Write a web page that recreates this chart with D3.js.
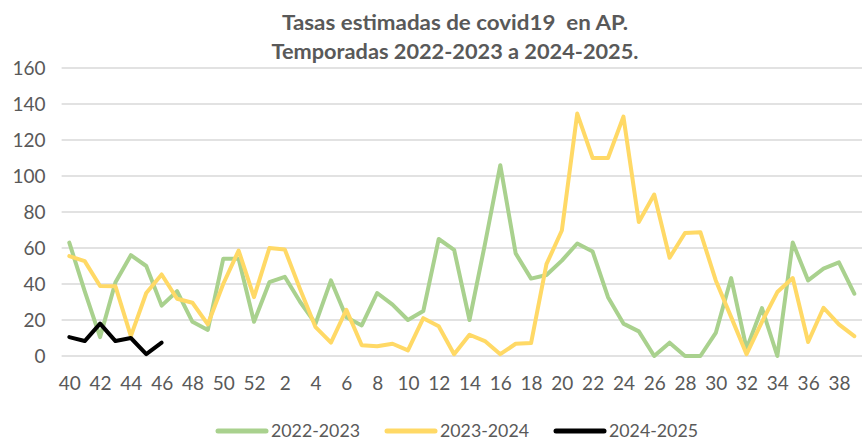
<!DOCTYPE html>
<html>
<head>
<meta charset="utf-8">
<script src="https://cdn.jsdelivr.net/npm/d3@7"></script>
<style>
  body { margin: 0; background: #fff; }
  svg { display: block; font-family: Lato, "Open Sans", sans-serif; }
</style>
</head>
<body>
<div id="chart"></div>
<script>
// semanas epidemiologicas, de la 40 a la 39 del año siguiente
const weeks = [40, 41, 42, 43, 44, 45, 46, 47, 48, 49, 50, 51, 52,
  1, 2, 3, 4, 5, 6, 7, 8, 9, 10, 11, 12, 13, 14, 15, 16, 17, 18, 19, 20,
  21, 22, 23, 24, 25, 26, 27, 28, 29, 30, 31, 32, 33, 34, 35, 36, 37, 38, 39];

const s2022 = [63, 36, 10.5, 41, 56, 50, 28, 36, 19, 14.5, 54, 54, 19,
  41, 44, 30, 18, 42, 21.5, 17, 35, 28.5, 20, 25, 65, 59, 20, 62, 106, 57,
  43, 45, 53, 62.5, 58, 32.7, 18, 13.7, 0, 7.4, 0, 0, 12.8, 43.3, 4, 26.6,
  0, 63, 42, 48.5, 52, 34.6];

const s2023 = [55.5, 52.7, 38.9, 38.7, 11, 35, 45.3, 31.8, 29.6, 17.6, 40, 58.6, 32.7,
  60, 59.2, 37, 16, 7.4, 25.7, 6, 5.4, 6.8, 3.1, 21, 16.5, 1, 11.8, 8.3, 1, 6.8,
  7.2, 51, 69.7, 134.7, 110, 110, 133, 74.4, 89.7, 54.6, 68.3, 68.8, 42, 21.6, 1,
  19, 35.5, 43.3, 7.8, 26.8, 17.6, 11];

const s2024 = [10.5, 8.3, 18, 8.3, 10, 1, 7.4];

const yTicks = [0, 20, 40, 60, 80, 100, 120, 140, 160];

const series = [
  { name: '2022-2023', values: s2022, color: '#a9d18e' },
  { name: '2023-2024', values: s2023, color: '#ffd966' },
  { name: '2024-2025', values: s2024, color: '#000000' }
];

const width = 867, height = 442;
const margin = { top: 68, right: 5, bottom: 86, left: 61.6 };
const labelColor = '#595959';

const svg = d3.select('#chart').append('svg')
  .attr('width', width)
  .attr('height', height);

const x = d3.scalePoint()
  .domain(weeks.map(String))
  .range([margin.left, width - margin.right])
  .padding(0.5);

const y = d3.scaleLinear()
  .domain([0, 160])
  .range([height - margin.bottom, margin.top]);

// gridlines
svg.append('g')
  .selectAll('line')
  .data(yTicks)
  .join('line')
  .attr('x1', margin.left)
  .attr('x2', width - margin.right)
  .attr('y1', d => y(d))
  .attr('y2', d => y(d))
  .attr('stroke', '#d9d9d9')
  .attr('stroke-width', 1.3);

// y axis labels
const yAxis = svg.append('g')
  .attr('transform', `translate(${margin.left - 16},0)`)
  .call(d3.axisLeft(y).tickValues(yTicks).tickSize(0).tickPadding(0));
yAxis.select('.domain').remove();
yAxis.selectAll('text')
  .attr('font-family', 'Lato, sans-serif')
  .attr('font-size', '19px')
  .attr('fill', labelColor);

// x axis labels, cada dos semanas
const xAxis = svg.append('g')
  .attr('transform', `translate(0,${height - margin.bottom + 20})`)
  .call(d3.axisBottom(x)
    .tickValues(weeks.filter((d, i) => i % 2 === 0).map(String))
    .tickSize(0)
    .tickPadding(0));
xAxis.select('.domain').remove();
xAxis.selectAll('text')
  .attr('font-family', 'Lato, sans-serif')
  .attr('font-size', '19px')
  .attr('fill', labelColor);

const line = d3.line()
  .x((d, i) => x(String(weeks[i])))
  .y(d => y(d));

svg.append('g')
  .selectAll('path')
  .data(series)
  .join('path')
  .attr('d', d => line(d.values))
  .attr('fill', 'none')
  .attr('stroke', d => d.color)
  .attr('stroke-width', 4)
  .attr('stroke-linejoin', 'round')
  .attr('stroke-linecap', 'round');

// title
const title = svg.append('text')
  .attr('text-anchor', 'middle')
  .attr('font-family', 'Lato, sans-serif')
  .attr('font-weight', 'bold')
  .attr('font-size', '21px')
  .attr('fill', labelColor)
  .style('white-space', 'pre');
title.append('tspan').attr('x', 455).attr('y', 30)
  .attr('textLength', 346).attr('lengthAdjust', 'spacingAndGlyphs')
  .text('Tasas estimadas de covid19  en AP.');
title.append('tspan').attr('x', 455).attr('y', 59)
  .attr('textLength', 367).attr('lengthAdjust', 'spacingAndGlyphs')
  .text('Temporadas 2022-2023 a 2024-2025.');

// legend
const legendX = [218, 387, 556];
const legend = svg.append('g')
  .selectAll('g')
  .data(series)
  .join('g')
  .attr('transform', (d, i) => `translate(${legendX[i]},431)`);
legend.append('line')
  .attr('x1', 0)
  .attr('x2', 48)
  .attr('stroke', d => d.color)
  .attr('stroke-width', 5)
  .attr('stroke-linecap', 'round');
legend.append('text')
  .attr('x', 53)
  .attr('dy', '0.35em')
  .attr('font-size', '17px')
  .attr('textLength', 89)
  .attr('lengthAdjust', 'spacingAndGlyphs')
  .attr('fill', labelColor)
  .text(d => d.name);
</script>
</body>
</html>
